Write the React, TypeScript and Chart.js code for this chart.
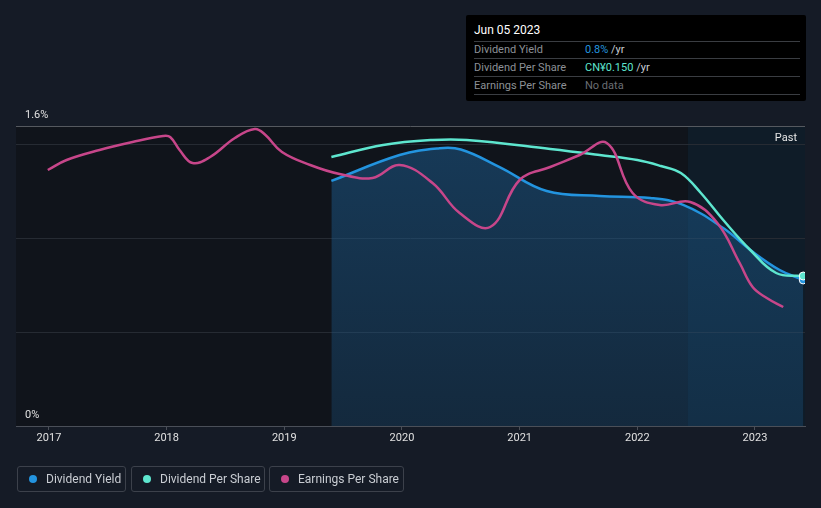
import React, { useEffect, useRef } from "react";
import { Chart, registerables } from "chart.js";

Chart.register(...registerables);

// ---- Data (x = decimal year) ----
const yieldYears = [2019.4, 2019.98, 2020.3, 2020.5, 2020.83, 2021.23, 2021.68, 2022.11, 2022.39, 2022.73, 2022.96, 2023.21, 2023.41];
const yieldValues = [1.307, 1.445, 1.48, 1.475, 1.381, 1.253, 1.227, 1.216, 1.179, 1.056, 0.939, 0.832, 0.779];

const dpsYears = [2019.4, 2019.84, 2020.26, 2020.55, 2021.26, 2021.68, 2022.0, 2022.2, 2022.37, 2022.54, 2022.73, 2022.96, 2023.18, 2023.41];
const dpsValues = [0.269, 0.281, 0.286, 0.286, 0.277, 0.271, 0.266, 0.26, 0.253, 0.233, 0.206, 0.176, 0.153, 0.15];

const epsYears = [2016.99, 2017.15, 2017.43, 2017.71, 2017.97, 2018.03, 2018.11, 2018.22, 2018.37, 2018.58, 2018.75, 2018.84, 2018.98, 2019.22, 2019.47, 2019.75, 2019.98, 2020.26, 2020.49, 2020.75, 2021.0, 2021.26, 2021.51, 2021.74, 2021.96, 2022.19, 2022.45, 2022.68, 2022.87, 2022.98, 2023.1, 2023.24];
const epsValues = [0.512, 0.532, 0.552, 0.568, 0.58, 0.578, 0.552, 0.526, 0.538, 0.576, 0.594, 0.582, 0.548, 0.522, 0.504, 0.496, 0.522, 0.486, 0.426, 0.398, 0.492, 0.518, 0.542, 0.566, 0.466, 0.442, 0.448, 0.406, 0.326, 0.278, 0.256, 0.238];

const yearTicks = [2017, 2018, 2019, 2020, 2021, 2022, 2023];
const yieldTicks = [0, 0.5, 1.0, 1.5, 1.6];
const yieldTickLabels = ["0%", "", "", "", "1.6%"];

const xMin = 2016.72;
const xMax = 2023.425;
const pastStart = 2022.43;

const BLUE = "#2394df";
const TEAL = "#5ee6cf";
const PINK = "#c7468a";

const pts = (xs: number[], ys: number[]) => xs.map((x, i) => ({ x, y: ys[i] }));

const bgBeforeGrid = {
  id: "bgBeforeGrid",
  beforeDraw(chart: any) {
    const { ctx, chartArea, scales } = chart;
    const px = scales.x.getPixelForValue(pastStart);
    ctx.save();
    ctx.fillStyle = "#10141b";
    ctx.fillRect(chartArea.left, chartArea.top, px - chartArea.left, chartArea.bottom - chartArea.top);
    ctx.fillStyle = "#0f1c28";
    ctx.fillRect(px, chartArea.top, chartArea.right - px, chartArea.bottom - chartArea.top);
    ctx.restore();
  },
};

const pastLabel = {
  id: "pastLabel",
  afterDatasetsDraw(chart: any) {
    const { ctx, chartArea } = chart;
    ctx.save();
    ctx.fillStyle = "#e6e6e6";
    ctx.font = "11px Roboto, 'Noto Sans', sans-serif";
    ctx.textAlign = "right";
    ctx.textBaseline = "middle";
    ctx.fillText("Past", chartArea.right - 8, chartArea.top + 12);
    ctx.restore();
  },
};

export default function App() {
  const ref = useRef<HTMLCanvasElement>(null);

  useEffect(() => {
    if (!ref.current) return;
    const chart = new Chart(ref.current, {
      type: "line",
      data: {
        datasets: [
          {
            label: "Dividend Yield",
            data: pts(yieldYears, yieldValues),
            borderColor: BLUE,
            borderWidth: 2.5,
            tension: 0.4,
            yAxisID: "y",
            fill: "origin",
            backgroundColor: (c: any) => {
              const area = c.chart.chartArea;
              if (!area) return "rgba(30,90,140,0.4)";
              const g = c.chart.ctx.createLinearGradient(0, area.top, 0, area.bottom);
              g.addColorStop(0, "rgba(28,90,140,0.55)");
              g.addColorStop(1, "rgba(28,90,140,0.3)");
              return g;
            },
            pointRadius: (c: any) => (c.dataIndex === yieldValues.length - 1 ? 4 : 0),
            pointBackgroundColor: BLUE,
            pointBorderColor: "#ffffff",
            pointBorderWidth: 1,
            order: 3,
          },
          {
            label: "Dividend Per Share",
            data: pts(dpsYears, dpsValues),
            borderColor: TEAL,
            borderWidth: 2.5,
            tension: 0.4,
            yAxisID: "yDps",
            fill: false,
            pointRadius: (c: any) => (c.dataIndex === dpsValues.length - 1 ? 4 : 0),
            pointBackgroundColor: TEAL,
            pointBorderColor: "#ffffff",
            pointBorderWidth: 1,
            order: 2,
          },
          {
            label: "Earnings Per Share",
            data: pts(epsYears, epsValues),
            borderColor: PINK,
            borderWidth: 2.5,
            tension: 0.4,
            yAxisID: "yEps",
            fill: false,
            pointRadius: 0,
            order: 1,
          },
        ],
      },
      options: {
        animation: false,
        responsive: false,
        maintainAspectRatio: false,
        layout: { padding: { left: 16, right: 16, top: 126, bottom: 0 } },
        plugins: { legend: { display: false }, tooltip: { enabled: false } },
        scales: {
          x: {
            type: "linear",
            min: xMin,
            max: xMax,
            afterBuildTicks: (axis: any) => {
              axis.ticks = yearTicks.map((v) => ({ value: v }));
            },
            afterFit: (axis: any) => {
              axis.height = 82;
            },
            ticks: {
              color: "#e0e0e0",
              font: { family: "Roboto, 'Noto Sans', sans-serif", size: 11 },
              padding: 2,
              maxRotation: 0,
              autoSkip: false,
              callback: (v: any) => String(v),
            },
            grid: { drawOnChartArea: false, drawTicks: true, tickLength: 4, color: "#4a4f58" },
            border: { display: true, color: "#4a4f58", width: 1 },
          },
          y: {
            min: 0,
            max: 1.6,
            afterBuildTicks: (axis: any) => {
              axis.ticks = yieldTicks.map((v) => ({ value: v }));
            },
            afterFit: (axis: any) => {
              axis.width = 0;
            },
            ticks: {
              mirror: true,
              padding: 9,
              labelOffset: -11,
              color: "#e0e0e0",
              font: { family: "Roboto, 'Noto Sans', sans-serif", size: 11 },
              callback: (_v: any, i: number) => yieldTickLabels[i],
            },
            grid: {
              drawTicks: false,
              color: (c: any) => (c.tick && c.tick.value === 1.6 ? "#55595f" : c.tick && c.tick.value === 0 ? "rgba(0,0,0,0)" : "#262b33"),
              lineWidth: 1,
            },
            border: { display: false },
          },
          yDps: { display: false, min: 0, max: 0.3 },
          yEps: { display: false, min: 0, max: 0.6 },
        },
      },
      plugins: [bgBeforeGrid, pastLabel],
    });
    return () => chart.destroy();
  }, []);

  const font = "Roboto, 'Noto Sans', sans-serif";
  const row = (label: string, value: React.ReactNode, top: number) => (
    <div
      style={{
        position: "absolute",
        left: 8,
        right: 6,
        top,
        height: 17,
        borderBottom: "1px solid #3a3d42",
        display: "flex",
        alignItems: "center",
        fontSize: 11,
      }}
    >
      <span style={{ color: "#8c9096", width: 111 }}>{label}</span>
      <span>{value}</span>
    </div>
  );

  const legendItem = (label: string, color: string, left: number, width: number) => (
    <div
      style={{
        position: "absolute",
        left,
        top: 466,
        width,
        height: 26,
        border: "1px solid #3c414b",
        borderRadius: 3,
        boxSizing: "border-box",
        display: "flex",
        alignItems: "center",
        fontSize: 12,
        color: "#c9cdd3",
        fontFamily: font,
      }}
    >
      <span style={{ display: "inline-block", width: 8, height: 8, borderRadius: 4, background: color, marginLeft: 11, marginRight: 9 }} />
      {label}
    </div>
  );

  return (
    <div style={{ position: "fixed", left: 0, top: 0, width: 821, height: 508, background: "#151b26", fontFamily: font }}>
      <canvas ref={ref} width={821} height={508} style={{ position: "absolute", left: 0, top: 0, width: 821, height: 508 }} />
      <div style={{ position: "absolute", left: 466, top: 15, width: 340, height: 86, background: "#000000", borderRadius: 2 }}>
        <div style={{ position: "absolute", left: 8, right: 6, top: 8, height: 18, borderBottom: "1px solid #3a3d42", color: "#ffffff", fontSize: 12 }}>
          Jun 05 2023
        </div>
        {row("Dividend Yield", <><span style={{ color: BLUE }}>0.8%</span><span style={{ color: "#c9cdd3" }}> /yr</span></>, 26)}
        {row("Dividend Per Share", <><span style={{ color: TEAL }}>CN¥0.150</span><span style={{ color: "#c9cdd3" }}> /yr</span></>, 44)}
        {row("Earnings Per Share", <span style={{ color: "#6a6e74" }}>No data</span>, 62)}
      </div>
      {legendItem("Dividend Yield", BLUE, 17, 109)}
      {legendItem("Dividend Per Share", TEAL, 131, 134)}
      {legendItem("Earnings Per Share", PINK, 269, 135)}
    </div>
  );
}
